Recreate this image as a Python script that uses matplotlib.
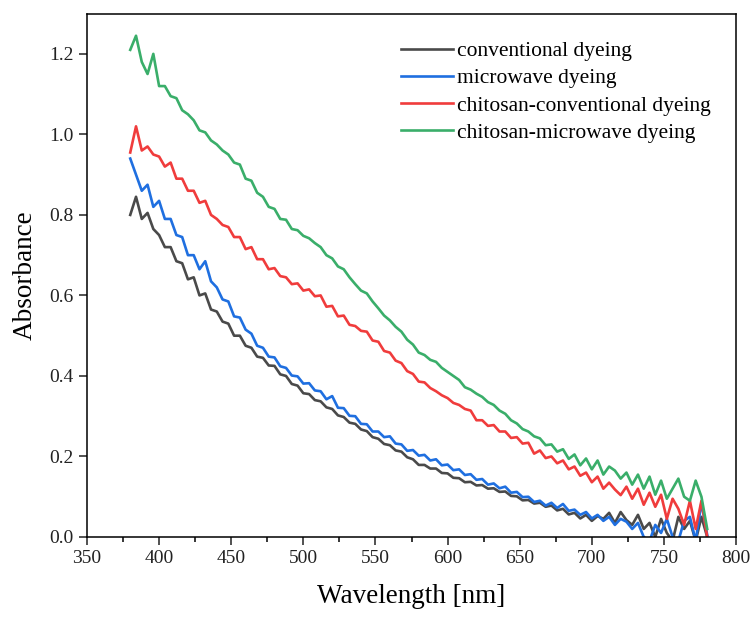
import matplotlib.pyplot as plt
import numpy as np

# wavelength grid (nm), 4 nm steps
wavelength = np.arange(380, 781, 4)

# absorbance, rows of ten points (380-416, 420-456, ...)
conventional = [
    0.80, 0.845, 0.79, 0.805, 0.765, 0.75, 0.72, 0.72, 0.685, 0.68,
    0.64, 0.645, 0.60, 0.605, 0.565, 0.56, 0.535, 0.53, 0.50, 0.50,
    0.475, 0.47, 0.448, 0.445, 0.426, 0.425, 0.404, 0.40, 0.38, 0.376,
    0.357, 0.355, 0.34, 0.337, 0.322, 0.318, 0.302, 0.298, 0.284, 0.281,
    0.267, 0.263, 0.248, 0.244, 0.231, 0.228, 0.215, 0.212, 0.198, 0.193,
    0.179, 0.179, 0.17, 0.17, 0.159, 0.158, 0.147, 0.146, 0.136, 0.137,
    0.128, 0.129, 0.12, 0.121, 0.112, 0.113, 0.102, 0.101, 0.091, 0.092,
    0.083, 0.085, 0.075, 0.078, 0.066, 0.07, 0.056, 0.06, 0.046, 0.055,
    0.04, 0.052, 0.045, 0.06, 0.035, 0.062, 0.042, 0.03, 0.055, 0.02,
    0.035, 0.0, 0.045, 0.01, -0.01, 0.05, 0.02, 0.04, -0.01, 0.05,
    0.0,
]
microwave = [
    0.94, 0.90, 0.86, 0.875, 0.82, 0.835, 0.79, 0.79, 0.75, 0.745,
    0.70, 0.70, 0.665, 0.685, 0.635, 0.62, 0.59, 0.585, 0.548, 0.545,
    0.515, 0.505, 0.475, 0.47, 0.448, 0.446, 0.424, 0.42, 0.401, 0.399,
    0.381, 0.382, 0.364, 0.362, 0.342, 0.35, 0.321, 0.32, 0.301, 0.30,
    0.281, 0.28, 0.262, 0.262, 0.248, 0.25, 0.232, 0.23, 0.214, 0.216,
    0.202, 0.204, 0.19, 0.193, 0.178, 0.18, 0.166, 0.168, 0.154, 0.156,
    0.142, 0.144, 0.13, 0.133, 0.121, 0.125, 0.11, 0.112, 0.099, 0.10,
    0.087, 0.09, 0.078, 0.085, 0.072, 0.082, 0.065, 0.068, 0.055, 0.062,
    0.046, 0.055, 0.04, 0.05, 0.03, 0.045, 0.038, 0.02, 0.035, 0.0,
    -0.01, 0.03, 0.01, 0.045, 0.0, -0.01, 0.04, 0.05, -0.01, 0.085,
    0.005,
]
chitosan_conventional = [
    0.955, 1.02, 0.96, 0.97, 0.95, 0.945, 0.92, 0.93, 0.89, 0.89,
    0.86, 0.86, 0.83, 0.835, 0.80, 0.79, 0.775, 0.77, 0.745, 0.745,
    0.715, 0.72, 0.69, 0.69, 0.665, 0.668, 0.648, 0.645, 0.628, 0.63,
    0.612, 0.615, 0.598, 0.60, 0.572, 0.574, 0.548, 0.55, 0.527, 0.524,
    0.512, 0.51, 0.488, 0.485, 0.462, 0.458, 0.438, 0.432, 0.412, 0.405,
    0.386, 0.384, 0.37, 0.362, 0.352, 0.345, 0.333, 0.328, 0.318, 0.314,
    0.29, 0.29, 0.276, 0.278, 0.262, 0.262, 0.246, 0.248, 0.232, 0.234,
    0.207, 0.215, 0.196, 0.20, 0.183, 0.19, 0.168, 0.175, 0.152, 0.16,
    0.136, 0.15, 0.12, 0.135, 0.118, 0.104, 0.125, 0.095, 0.12, 0.08,
    0.11, 0.075, 0.105, 0.045, 0.095, 0.07, 0.03, 0.09, 0.02, 0.09,
    0.0,
]
chitosan_microwave = [
    1.21, 1.245, 1.18, 1.15, 1.20, 1.12, 1.12, 1.095, 1.09, 1.06,
    1.05, 1.035, 1.01, 1.005, 0.985, 0.975, 0.96, 0.95, 0.93, 0.925,
    0.89, 0.885, 0.855, 0.845, 0.82, 0.815, 0.79, 0.788, 0.765, 0.762,
    0.748, 0.742, 0.73, 0.72, 0.70, 0.692, 0.672, 0.665, 0.645, 0.628,
    0.612, 0.605, 0.585, 0.568, 0.55, 0.538, 0.522, 0.51, 0.49, 0.478,
    0.458, 0.452, 0.44, 0.435, 0.42, 0.41, 0.40, 0.39, 0.372, 0.366,
    0.356, 0.348, 0.335, 0.328, 0.314, 0.306, 0.29, 0.282, 0.268, 0.262,
    0.25, 0.245, 0.228, 0.23, 0.212, 0.218, 0.194, 0.205, 0.178, 0.195,
    0.168, 0.19, 0.155, 0.175, 0.165, 0.145, 0.16, 0.13, 0.155, 0.12,
    0.15, 0.105, 0.14, 0.095, 0.12, 0.145, 0.10, 0.09, 0.14, 0.10,
    0.02,
]

labels = ['conventional dyeing', 'microwave dyeing',
          'chitosan-conventional dyeing', 'chitosan-microwave dyeing']
colors = ['#4a4a4a', '#1f6fe0', '#f03c3c', '#3aae6a']

plt.rcParams['font.family'] = ['Liberation Serif', 'DejaVu Serif']

fig = plt.figure(figsize=(7.53, 6.19), dpi=100)
ax = fig.add_axes([0.1155, 0.1325, 0.862, 0.8455])

series = [conventional, microwave, chitosan_conventional, chitosan_microwave]
for vals, lab, col in zip(series, labels, colors):
    ax.plot(wavelength, vals, color=col, lw=1.9, label=lab)

ax.set_xlim(350, 800)
ax.set_ylim(0, 1.3)
ax.set_xticks(np.arange(350, 801, 50))
ax.set_xticks(np.arange(375, 800, 50), minor=True)
ax.set_yticks(np.arange(0, 1.21, 0.2))
ax.yaxis.set_major_formatter(plt.FormatStrFormatter('%.1f'))

for s in ax.spines.values():
    s.set_linewidth(1.1)
ax.tick_params(axis='both', which='major', direction='out', length=6,
               width=1.1, labelsize=14, colors='#222222')
ax.tick_params(axis='x', which='minor', direction='out', length=3.5, width=1.1)

ax.set_xlabel('Wavelength [nm]', fontsize=19.5, labelpad=12)
ax.set_ylabel('Absorbance', fontsize=19.5, labelpad=8)

ax.legend(loc='upper left', bbox_to_anchor=(0.467, 0.968), frameon=False,
          fontsize=15.5, handlelength=2.4, handletextpad=0.22,
          labelspacing=0.33, borderpad=0)

plt.savefig('out.png', dpi=100)
